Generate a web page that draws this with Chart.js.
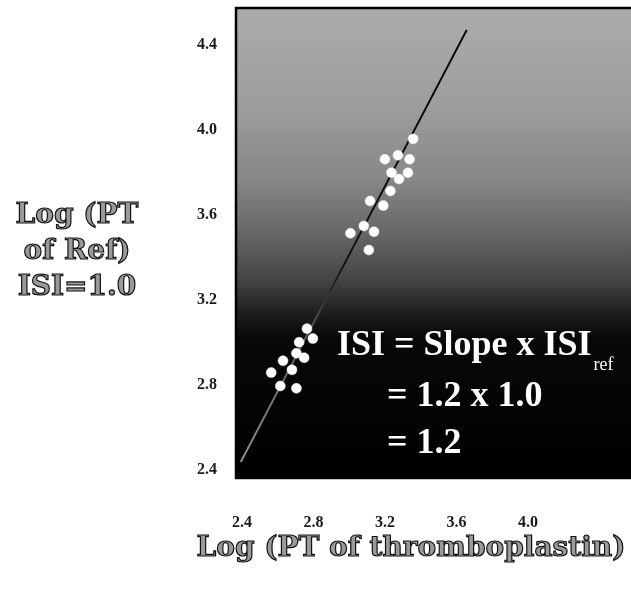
<!DOCTYPE html>
<html>
<head>
<meta charset="utf-8">
<script src="https://cdn.jsdelivr.net/npm/chart.js@4.4.1/dist/chart.umd.min.js"></script>
<style>
  html, body { margin: 0; padding: 0; background: #fff; overflow: hidden; }
  canvas { display: block; }
</style>
</head>
<body>
<canvas id="isiChart" width="631" height="597"></canvas>
<script>
'use strict';

// values
var upperX = [3.358, 3.200, 3.273, 3.338, 3.237, 3.329, 3.279, 3.231, 3.117, 3.191, 3.082, 3.007, 3.139, 3.110];
var upperY = [3.958, 3.862, 3.881, 3.862, 3.799, 3.799, 3.769, 3.713, 3.666, 3.644, 3.548, 3.514, 3.521, 3.435];
var lowerX = [2.764, 2.797, 2.720, 2.705, 2.748, 2.630, 2.680, 2.564, 2.615, 2.705];
var lowerY = [3.065, 3.018, 3.001, 2.949, 2.928, 2.914, 2.871, 2.858, 2.795, 2.784];
var fitX = [2.394, 3.658];
var fitY = [2.438, 4.471];

var xTicks = [2.4, 2.8, 3.2, 3.6, 4.0];
var yTicks = [2.4, 2.8, 3.2, 3.6, 4.0, 4.4];
var xRange = [2.367, 4.546];
var yRange = [2.362, 4.574];

var xTitle = 'Log (PT of thromboplastin)';
var yTitleLines = ['Log (PT', 'of Ref)', 'ISI=1.0'];
var formulaLines = ['ISI = Slope x ISI', '= 1.2 x 1.0', '= 1.2'];
var formulaSub = 'ref';

function toPoints(xs, ys) {
	var pts = [];
	for (var i = 0; i < xs.length; i++) {
		pts.push({ x: xs[i], y: ys[i] });
	}
	return pts;
}

// gray-to-black plot background, frame and all the loose text
var decor = {
	id: 'decor',
	beforeDraw: function (chart) {
		var ctx = chart.ctx, ca = chart.chartArea;
		ctx.save();
		ctx.fillStyle = '#fff';
		ctx.fillRect(0, 0, chart.width, chart.height);
		var g = ctx.createLinearGradient(0, ca.top, 0, ca.bottom);
		g.addColorStop(0, '#ababab');
		g.addColorStop(0.2, '#9e9e9e');
		g.addColorStop(0.36, '#888');
		g.addColorStop(0.48, '#666');
		g.addColorStop(0.58, '#444');
		g.addColorStop(0.65, '#1e1e1e');
		g.addColorStop(0.7, '#080808');
		g.addColorStop(1, '#000');
		ctx.fillStyle = g;
		ctx.fillRect(ca.left, ca.top, chart.width - ca.left, ca.bottom - ca.top);
		ctx.restore();
	},
	afterDraw: function (chart) {
		var ctx = chart.ctx, ca = chart.chartArea;
		ctx.save();
		ctx.strokeStyle = '#000';
		ctx.lineWidth = 2.5;
		ctx.strokeRect(ca.left, ca.top, chart.width - ca.left + 4, ca.bottom - ca.top);

		// formula in white
		ctx.fillStyle = '#fff';
		ctx.textBaseline = 'alphabetic';
		ctx.textAlign = 'left';
		ctx.font = 'bold 36px "Liberation Serif", "Times New Roman", serif';
		ctx.fillText(formulaLines[0], ca.left + 101, 355);
		var w = ctx.measureText(formulaLines[0]).width;
		ctx.fillText(formulaLines[1], ca.left + 151, 406);
		ctx.fillText(formulaLines[2], ca.left + 151, 453);
		ctx.font = '18px "Liberation Serif", "Times New Roman", serif';
		ctx.fillText(formulaSub, ca.left + 103 + w, 370);

		// axis titles, gray with dark outline
		ctx.font = 'bold 28px "DejaVu Serif", serif';
		ctx.fillStyle = '#9a9a9a';
		ctx.strokeStyle = '#111';
		ctx.lineWidth = 1.2;
		ctx.textAlign = 'center';
		for (var i = 0; i < yTitleLines.length; i++) {
			var yy = 223 + i * 36;
			ctx.fillText(yTitleLines[i], 77, yy);
			ctx.strokeText(yTitleLines[i], 77, yy);
		}
		ctx.fillText(xTitle, 411, 556);
		ctx.strokeText(xTitle, 411, 556);
		ctx.restore();
	}
};

var tickFont = { family: '"Liberation Serif", "Times New Roman", serif', size: 16, weight: 'bold', lineHeight: 1 };

var chart = new Chart(document.getElementById('isiChart'), {
	type: 'scatter',
	data: {
		datasets: [{
			label: 'upper',
			data: toPoints(upperX, upperY),
			backgroundColor: '#fff',
			borderColor: '#e6e6e6',
			borderWidth: 0.5,
			pointRadius: 5,
			order: 0
		}, {
			label: 'lower',
			data: toPoints(lowerX, lowerY),
			backgroundColor: '#fff',
			borderColor: '#e6e6e6',
			borderWidth: 0.5,
			pointRadius: 5,
			order: 0
		}, {
			type: 'line',
			label: 'fit',
			data: toPoints(fitX, fitY),
			pointRadius: 0,
			borderWidth: 2,
			fill: false,
			order: 1,
			borderColor: function (c) {
				var ca = c.chart.chartArea;
				if (!ca) {
					return '#000';
				}
				var g = c.chart.ctx.createLinearGradient(0, ca.top, 0, ca.bottom);
				g.addColorStop(0, '#000');
				g.addColorStop(0.55, '#111');
				g.addColorStop(0.68, '#555');
				g.addColorStop(1, '#9a9a9a');
				return g;
			}
		}]
	},
	options: {
		responsive: false,
		animation: false,
		layout: { padding: { top: 8, right: 0, bottom: 0, left: 0 } },
		plugins: {
			legend: { display: false },
			tooltip: { enabled: false }
		},
		scales: {
			x: {
				type: 'linear',
				min: xRange[0],
				max: xRange[1],
				grid: { display: false, drawTicks: true, tickLength: 37, color: 'transparent' },
				border: { display: false },
				ticks: { font: tickFont, color: '#1a1a1a', padding: 0, maxRotation: 0 },
				afterBuildTicks: function (scale) {
					scale.ticks = xTicks.map(function (v) { return { value: v }; });
				},
				afterFit: function (scale) {
					scale.height = 119;
					scale.paddingLeft = 0;
					scale.paddingRight = 0;
				}
			},
			y: {
				type: 'linear',
				min: yRange[0],
				max: yRange[1],
				grid: { display: false, drawTicks: true, tickLength: 19, color: 'transparent' },
				border: { display: false },
				ticks: { font: tickFont, color: '#1a1a1a', padding: 0 },
				afterBuildTicks: function (scale) {
					scale.ticks = yTicks.map(function (v) { return { value: v }; });
				},
				afterFit: function (scale) {
					scale.width = 236;
					scale.paddingTop = 0;
					scale.paddingBottom = 0;
				}
			}
		}
	},
	plugins: [decor]
});
</script>
</body>
</html>
